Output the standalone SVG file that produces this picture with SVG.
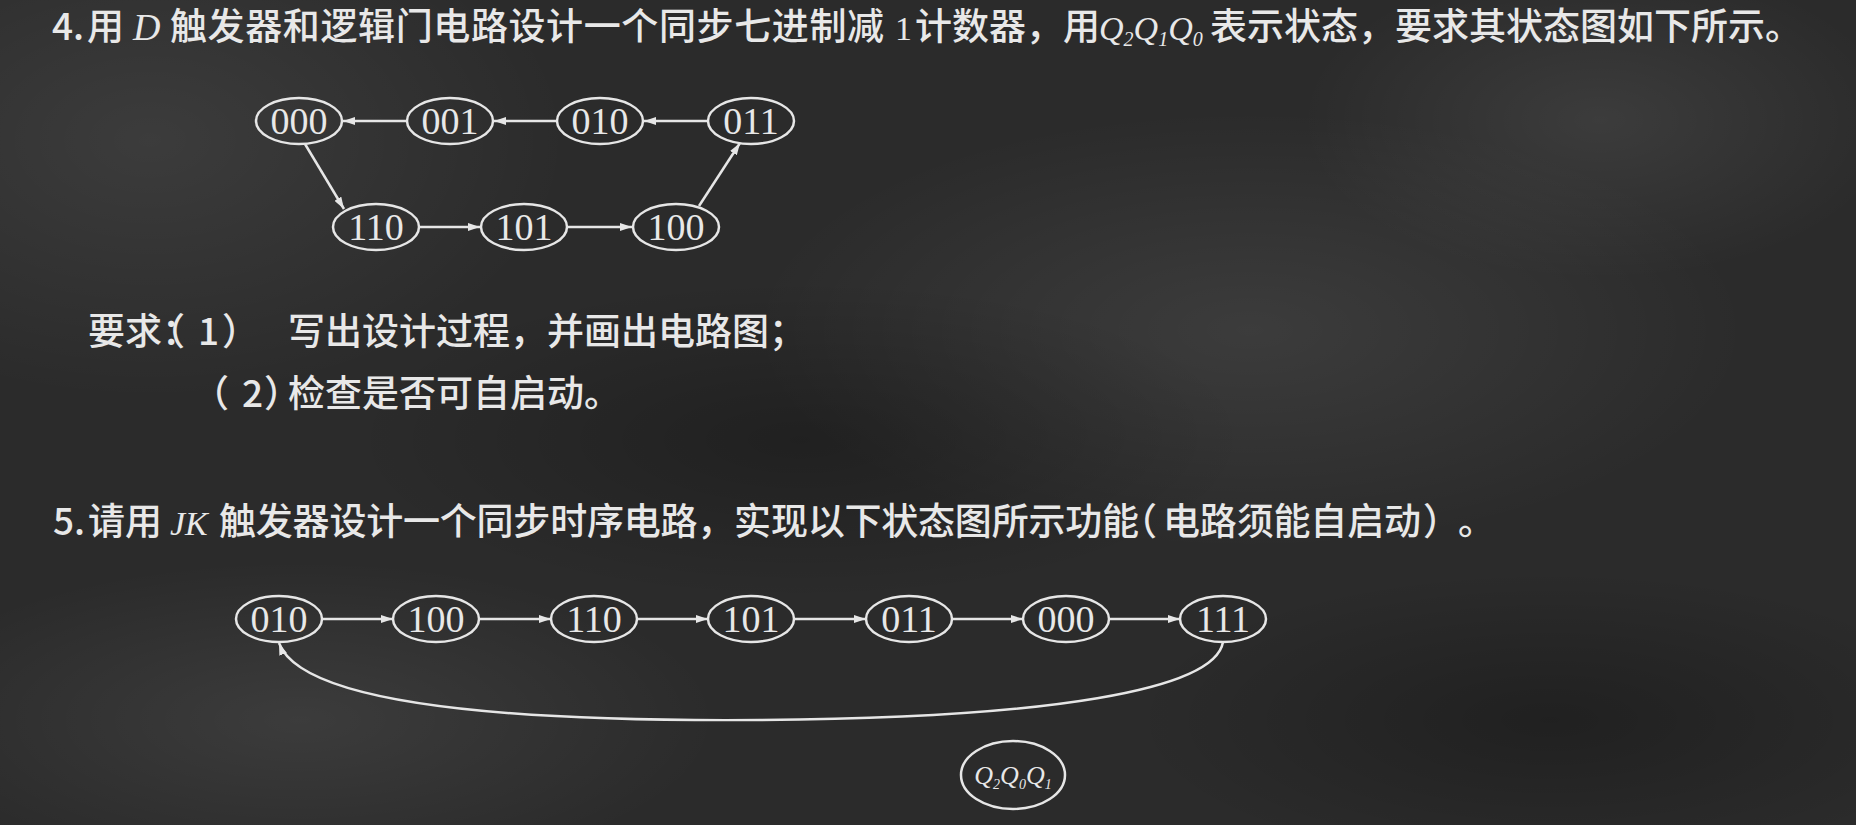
<svg xmlns="http://www.w3.org/2000/svg" width="1856" height="825" viewBox="0 0 1856 825">
<defs>
<radialGradient id="p1" cx="0.5" cy="0.5" r="0.5"><stop offset="0" stop-color="#ffffff" stop-opacity="0.08"/><stop offset="1" stop-color="#ffffff" stop-opacity="0"/></radialGradient>
<radialGradient id="p2" cx="0.5" cy="0.5" r="0.5"><stop offset="0" stop-color="#000000" stop-opacity="0.25"/><stop offset="1" stop-color="#000000" stop-opacity="0"/></radialGradient>
<marker id="arr" viewBox="0 0 12 8" refX="12" refY="4" markerWidth="12" markerHeight="8" markerUnits="userSpaceOnUse" orient="auto"><path d="M0,0 L12,4 L0,8 z" fill="#e6e6e6"/></marker>
</defs>
<style>
.cjk{font-family:"Noto Sans CJK SC","Noto Sans",sans-serif;font-size:37px;font-weight:500;fill:#e8e8e8}
.it{font-family:"Liberation Serif",serif;font-style:italic;font-weight:normal}
.rm{font-family:"Liberation Serif",serif;font-style:normal;font-weight:normal}
.num{font-family:"Liberation Serif",serif;font-size:38px;fill:#e8e8e8;text-anchor:middle}
.node ellipse{fill:none;stroke:#e6e6e6;stroke-width:2.5}
.conn path{fill:none;stroke:#e6e6e6;stroke-width:2.5}
</style>
<rect width="1856" height="825" fill="#2b2b2b"/>
<ellipse cx="150" cy="140" rx="420" ry="260" fill="url(#p1)"/>
<ellipse cx="1250" cy="330" rx="500" ry="220" fill="url(#p1)"/>
<ellipse cx="1600" cy="120" rx="300" ry="160" fill="url(#p1)"/>
<ellipse cx="300" cy="720" rx="420" ry="160" fill="url(#p1)"/>
<ellipse cx="1550" cy="720" rx="420" ry="150" fill="url(#p2)"/>
<ellipse cx="800" cy="440" rx="450" ry="160" fill="url(#p2)"/>

<g id="title4">
<text class="cjk" y="40"><tspan x="52">4.</tspan><tspan x="87">用</tspan><tspan class="it" x="133" font-size="38">D</tspan><tspan x="170" textLength="714" lengthAdjust="spacing">触发器和逻辑门电路设计一个同步七进制减</tspan><tspan class="rm" x="895" font-size="34">1</tspan><tspan x="915">计数器，用</tspan><tspan class="it" x="1099" font-size="34">Q</tspan><tspan class="it" font-size="20" dy="6">2</tspan><tspan class="it" font-size="34" dy="-6">Q</tspan><tspan class="it" font-size="20" dy="6">1</tspan><tspan class="it" font-size="34" dy="-6">Q</tspan><tspan class="it" font-size="20" dy="6">0</tspan><tspan x="1210" dy="-6">表示状态，要求其状态图如下所示。</tspan></text>
</g>

<g id="req">
<text class="cjk" y="345"><tspan x="88">要求：</tspan><tspan x="148">（</tspan><tspan x="198">1</tspan><tspan x="222">）</tspan><tspan x="288">写出设计过程，并画出电路图；</tspan></text>
<text class="cjk" y="407"><tspan x="192">（</tspan><tspan x="242">2</tspan><tspan x="264">）</tspan><tspan x="288">检查是否可自启动。</tspan></text>
</g>

<g id="title5">
<text class="cjk" y="535"><tspan x="53">5.</tspan><tspan x="88">请用</tspan><tspan class="it" x="170" font-size="34">JK</tspan><tspan x="219" textLength="920" lengthAdjust="spacing">触发器设计一个同步时序电路，实现以下状态图所示功能</tspan><tspan x="1120">（</tspan><tspan x="1163" textLength="258" lengthAdjust="spacing">电路须能自启动</tspan><tspan x="1423">）</tspan><tspan x="1458">。</tspan></text>
</g>

<g id="d1-000" class="node"><ellipse cx="299" cy="121" rx="43" ry="23"/><text class="num" x="299" y="134">000</text></g>
<g id="d1-001" class="node"><ellipse cx="450" cy="121" rx="43" ry="23"/><text class="num" x="450" y="134">001</text></g>
<g id="d1-010" class="node"><ellipse cx="600" cy="121" rx="43" ry="23"/><text class="num" x="600" y="134">010</text></g>
<g id="d1-011" class="node"><ellipse cx="751" cy="121" rx="43" ry="23"/><text class="num" x="751" y="134">011</text></g>
<g id="d1-110" class="node"><ellipse cx="376" cy="227" rx="43" ry="23"/><text class="num" x="376" y="240">110</text></g>
<g id="d1-101" class="node"><ellipse cx="524" cy="227" rx="43" ry="23"/><text class="num" x="524" y="240">101</text></g>
<g id="d1-100" class="node"><ellipse cx="676" cy="227" rx="43" ry="23"/><text class="num" x="676" y="240">100</text></g>

<g id="d2-010" class="node"><ellipse cx="279" cy="619" rx="43" ry="23"/><text class="num" x="279" y="632">010</text></g>
<g id="d2-100" class="node"><ellipse cx="436" cy="619" rx="43" ry="23"/><text class="num" x="436" y="632">100</text></g>
<g id="d2-110" class="node"><ellipse cx="594" cy="619" rx="43" ry="23"/><text class="num" x="594" y="632">110</text></g>
<g id="d2-101" class="node"><ellipse cx="751" cy="619" rx="43" ry="23"/><text class="num" x="751" y="632">101</text></g>
<g id="d2-011" class="node"><ellipse cx="909" cy="619" rx="43" ry="23"/><text class="num" x="909" y="632">011</text></g>
<g id="d2-000" class="node"><ellipse cx="1066" cy="619" rx="43" ry="23"/><text class="num" x="1066" y="632">000</text></g>
<g id="d2-111" class="node"><ellipse cx="1223" cy="619" rx="43" ry="23"/><text class="num" x="1223" y="632">111</text></g>

<g id="legend" class="node"><ellipse cx="1013" cy="775" rx="52" ry="34"/><text class="it" x="1013" y="784" font-size="26" fill="#e8e8e8" text-anchor="middle">Q<tspan font-size="14" dy="5">2</tspan><tspan dy="-5">Q</tspan><tspan font-size="14" dy="5">0</tspan><tspan dy="-5">Q</tspan><tspan font-size="14" dy="5">1</tspan></text></g>

<g id="connectors" class="conn">
<path d="M407 121 L343 121" marker-end="url(#arr)"/>
<path d="M557 121 L494 121" marker-end="url(#arr)"/>
<path d="M708 121 L644 121" marker-end="url(#arr)"/>
<path d="M305 144 L344 209" marker-end="url(#arr)"/>
<path d="M419 227 L480 227" marker-end="url(#arr)"/>
<path d="M567 227 L632 227" marker-end="url(#arr)"/>
<path d="M699 206 L740 143" marker-end="url(#arr)"/>
<path d="M322 619 L393 619" marker-end="url(#arr)"/>
<path d="M479 619 L551 619" marker-end="url(#arr)"/>
<path d="M637 619 L708 619" marker-end="url(#arr)"/>
<path d="M794 619 L866 619" marker-end="url(#arr)"/>
<path d="M952 619 L1023 619" marker-end="url(#arr)"/>
<path d="M1109 619 L1180 619" marker-end="url(#arr)"/>
<path d="M1223 642 C1215 690 1050 718 760 720 C480 722 300 700 279 643" marker-end="url(#arr)"/>
</g>
</svg>
